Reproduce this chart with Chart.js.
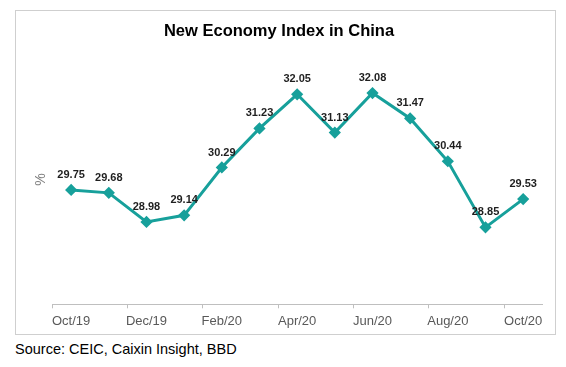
<!DOCTYPE html>
<html>
<head>
<meta charset="utf-8">
<script src="https://cdn.jsdelivr.net/npm/chart.js@4/dist/chart.umd.min.js"></script>
<style>
    body { margin: 0; background: #fff; }
    .box {
        position: absolute; left: 15px; top: 10px; width: 541px; height: 325px;
        border: 1px solid #cfcfcf; box-sizing: border-box;
    }
    .source {
        position: absolute; left: 15px; top: 341px; line-height: 16px;
        font-family: 'Liberation Sans', Arial, sans-serif; font-size: 14.5px; color: #000;
    }
</style>
</head>
<body>
<div class="box"><canvas id="chart"></canvas></div>
<div class="source">Source: CEIC, Caixin Insight, BBD</div>
<script>
// Daten
const months = ['Oct/19', 'Nov/19', 'Dec/19', 'Jan/20', 'Feb/20', 'Mar/20', 'Apr/20',
    'May/20', 'Jun/20', 'Jul/20', 'Aug/20', 'Sep/20', 'Oct/20'];
const indexValues = [29.75, 29.68, 28.98, 29.14, 30.29, 31.23, 32.05, 31.13, 32.08, 31.47, 30.44, 28.85, 29.53];
const yMin = 27;
const yMax = 33;

const teal = '#17a09b';
const fontFamily = "'Liberation Sans', Arial, sans-serif";

// Werte über den Punkten
const valueLabels = {
    id: 'valueLabels',
    afterDatasetsDraw(chart) {
        const { ctx } = chart;
        const meta = chart.getDatasetMeta(0);
        ctx.save();
        ctx.font = 'bold 11px ' + fontFamily;
        ctx.fillStyle = '#1f1f1f';
        ctx.textAlign = 'center';
        ctx.textBaseline = 'middle';
        meta.data.forEach((pt, i) => {
            ctx.fillText(indexValues[i].toFixed(2), pt.x, pt.y - 15);
        });
        ctx.restore();
    }
};

new Chart(document.getElementById('chart'), {
    type: 'line',
    data: {
        labels: months,
        datasets: [{
            data: indexValues,
            borderColor: teal,
            backgroundColor: teal,
            borderWidth: 3,
            tension: 0,
            pointStyle: 'rectRot',
            pointRadius: 4,
            pointHoverRadius: 4
        }]
    },
    options: {
        responsive: true,
        maintainAspectRatio: false,
        animation: false,
        layout: { padding: { top: 8, right: 13, left: 0, bottom: 0 } },
        plugins: {
            legend: { display: false },
            tooltip: { enabled: false },
            title: {
                display: true,
                text: 'New Economy Index in China',
                color: '#000',
                font: { family: fontFamily, size: 16.5, weight: 'bold' },
                padding: { top: 3, bottom: 13 }
            }
        },
        scales: {
            y: {
                min: yMin,
                max: yMax,
                ticks: { display: false },
                grid: { display: false },
                border: { display: false },
                title: {
                    display: true,
                    text: '%',
                    color: '#7f7f7f',
                    font: { family: fontFamily, size: 14 },
                    padding: { top: 17, bottom: 0 }
                },
                afterFit(scale) { scale.width = 36.3; }
            },
            x: {
                offset: true,
                border: { display: true, color: '#bfbfbf', width: 1 },
                grid: {
                    offset: true,
                    drawOnChartArea: false,
                    drawTicks: true,
                    tickLength: 4,
                    tickColor: (c) => c.index % 2 === 0 ? '#bfbfbf' : 'rgba(0,0,0,0)'
                },
                ticks: {
                    autoSkip: false,
                    maxRotation: 0,
                    padding: 5,
                    color: '#595959',
                    font: { family: fontFamily, size: 13 },
                    callback: function (val, i) { return i % 2 === 0 ? this.getLabelForValue(val) : ''; }
                },
                afterFit(scale) { scale.height = 29.7; }
            }
        }
    },
    plugins: [valueLabels]
});
</script>
</body>
</html>
